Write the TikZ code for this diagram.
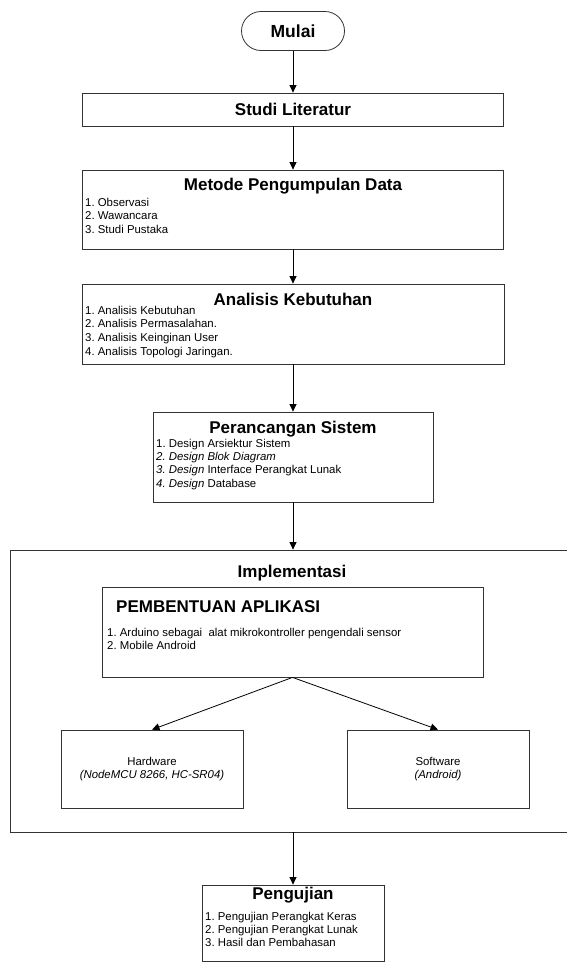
\documentclass[tikz,border=0pt]{standalone}
\usepackage{fontspec}
\setmainfont{Liberation Sans}
\usetikzlibrary{arrows.meta}
\frenchspacing

\begin{document}
\begin{tikzpicture}[x=1pt,y=-1pt,
  box/.style={draw=black!80,line width=.8pt,inner sep=0pt},
  ttl/.style={font=\fontsize{17}{20}\selectfont\bfseries,inner sep=0pt,anchor=base},
  lst/.style={font=\fontsize{11.4}{13.8}\selectfont,align=left,inner sep=0pt,anchor=north west},
  arr/.style={-{Triangle[length=7.5pt,width=7pt]},line width=.8pt}]
  \useasboundingbox (0,0) rectangle (566,962);
  %
  \node[box,rounded corners=19.5pt,minimum width=103pt,minimum height=39pt,
        font=\fontsize{17.5}{20}\selectfont\bfseries] (mulai) at (293,31) {Mulai};
  \node[box,minimum width=421pt,minimum height=33pt,
        font=\fontsize{17}{20}\selectfont\bfseries] (studi) at (293,109.5) {Studi Literatur};
  %
  \node[box,minimum width=421pt,minimum height=79pt] (metode) at (293,209.5) {};
  \node[ttl] (metodeT) at (293,190) {Metode Pengumpulan Data};
  \node[lst] (metodeL) at (85,197.7) {1. Observasi\\2. Wawancara\\3. Studi Pustaka};
  %
  \node[box,minimum width=422pt,minimum height=80pt] (analisis) at (293,324) {};
  \node[ttl] (analisisT) at (293,305) {Analisis Kebutuhan};
  \node[lst] (analisisL) at (85,305.7) {1. Analisis Kebutuhan\\2. Analisis Permasalahan.\\
    3. Analisis Keinginan User\\4. Analisis Topologi Jaringan.};
  %
  \node[box,minimum width=280pt,minimum height=90pt] (rancang) at (293,457) {};
  \node[ttl] (rancangT) at (293,433) {Perancangan Sistem};
  \node[lst,font=\fontsize{11.4}{13.4}\selectfont] (rancangL) at (156,438.7)
    {1. Design Arsiektur Sistem\\\textit{2. Design Blok Diagram}\\
     \textit{3. Design} Interface Perangkat Lunak\\\textit{4. Design} Database};
  %
  % implementasi
  \node[box,minimum width=590pt,minimum height=282pt] (impl) at (305,691) {};
  \node[ttl] (implT) at (292,577) {Implementasi};
  \node[box,minimum width=381pt,minimum height=90pt] (bentuk) at (292.5,632) {};
  \node[ttl,anchor=base west] (bentukT) at (116,612) {PEMBENTUAN APLIKASI};
  \node[lst,font=\fontsize{11.4}{13.5}\selectfont] (bentukL) at (107,627.7)
    {1. Arduino sebagai~ alat mikrokontroller pengendali sensor\\2. Mobile Android};
  \node[box,minimum width=182pt,minimum height=78pt,align=center,
        font=\fontsize{11.4}{13.5}\selectfont] (hw) at (152,769)
    {Hardware\\\textit{(NodeMCU 8266, HC-SR04)}};
  \node[box,minimum width=182pt,minimum height=78pt,align=center,
        font=\fontsize{11.4}{13.5}\selectfont] (sw) at (438,769)
    {Software\\\textit{(Android)}};
  %
  \node[box,minimum width=182pt,minimum height=76pt] (uji) at (293,923) {};
  \node[ttl] (ujiT) at (293,899) {Pengujian};
  \node[lst,font=\fontsize{11.4}{13.3}\selectfont] (ujiL) at (205,911.7)
    {1. Pengujian Perangkat Keras\\2. Pengujian Perangkat Lunak\\3. Hasil dan Pembahasan};
  %
  \draw[arr] (mulai) -- (studi);
  \draw[arr] (studi) -- (metode);
  \draw[arr] (metode) -- (analisis);
  \draw[arr] (analisis) -- (rancang);
  \draw[arr] (rancang) -- (rancang |- impl.north);
  \draw[arr] (bentuk.south) -- (hw.north);
  \draw[arr] (bentuk.south) -- (sw.north);
  \draw[arr] (uji |- impl.south) -- (uji);
\end{tikzpicture}
\end{document}
